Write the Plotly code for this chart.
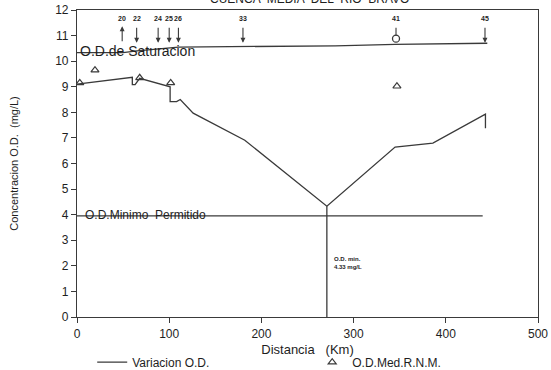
import plotly.graph_objects as go

# ---- data ----
dist_km = [0, 60, 60, 63, 68, 101, 101, 108, 112, 126, 182, 271, 345, 386, 443, 443]
od_mgL = [9.1, 9.37, 9.08, 9.08, 9.33, 9.0, 8.42, 8.42, 8.5, 7.97, 6.91, 4.33, 6.64, 6.8, 7.93, 7.38]

min_km = 271
min_od = 4.33

sat_km = [0, 50, 65, 110, 280, 345, 445]
sat_od = [10.33, 10.33, 10.4, 10.55, 10.6, 10.66, 10.7]

minperm_km = [0, 440]
minperm_od = [3.95, 3.95]

rnm_km = [3, 19.5, 68, 101.6, 347]
rnm_od = [9.15, 9.65, 9.35, 9.15, 9.02]

station_labels = ["20", "22", "24", "25", "26", "33", "41", "45"]
station_km = [49, 64.7, 88, 100, 110, 180, 346, 442.5]
station_kind = ["up", "down", "down", "down", "down", "down", "circle", "down"]

x_ticks = [0, 100, 200, 300, 400, 500]
y_ticks = list(range(0, 13))

LINE = "#3a3a3a"
TXT = "#1e1e1e"
FONT = "Liberation Sans"

fig = go.Figure()

fig.add_trace(go.Scatter(x=dist_km, y=od_mgL, mode="lines", name="Variacion O.D.",
                         line=dict(color=LINE, width=1.3)))
fig.add_trace(go.Scatter(x=[min_km, min_km], y=[0, min_od], mode="lines", showlegend=False,
                         line=dict(color=LINE, width=1.3), hoverinfo="skip"))
fig.add_trace(go.Scatter(x=sat_km, y=sat_od, mode="lines", showlegend=False,
                         line=dict(color=LINE, width=1.3)))
fig.add_trace(go.Scatter(x=minperm_km, y=minperm_od, mode="lines", showlegend=False,
                         line=dict(color=LINE, width=1.3)))
fig.add_trace(go.Scatter(x=rnm_km, y=rnm_od, mode="markers", name="O.D.Med.R.N.M.",
                         marker=dict(symbol="triangle-up-open", size=7, color=LINE,
                                     line=dict(width=1.2, color=LINE))))

annotations = []
label_y = 11.68
for lab, xk, kind in zip(station_labels, station_km, station_kind):
    annotations.append(dict(x=xk, y=label_y, xref="x", yref="y", text="<b>%s</b>" % lab,
                            showarrow=False, font=dict(size=7, color=TXT, family=FONT)))
    if kind == "down":
        annotations.append(dict(x=xk, y=10.72, ax=xk, ay=11.36, xref="x", yref="y",
                                axref="x", ayref="y", text="", showarrow=True,
                                arrowhead=2, arrowsize=0.9, arrowwidth=1.1, arrowcolor=LINE))
    elif kind == "up":
        annotations.append(dict(x=xk, y=11.36, ax=xk, ay=10.72, xref="x", yref="y",
                                axref="x", ayref="y", text="", showarrow=True,
                                arrowhead=2, arrowsize=0.9, arrowwidth=1.1, arrowcolor=LINE))
    else:
        annotations.append(dict(x=xk, y=10.98, ax=xk, ay=11.36, xref="x", yref="y",
                                axref="x", ayref="y", text="", showarrow=True,
                                arrowhead=0, arrowwidth=1.1, arrowcolor=LINE))

circle_x = [station_km[station_kind.index("circle")]]
fig.add_trace(go.Scatter(x=circle_x, y=[10.88], mode="markers", showlegend=False,
                         marker=dict(symbol="circle-open", size=7, color=LINE,
                                     line=dict(width=1.3, color=LINE))))

annotations += [
    dict(x=1, y=10.38, xref="x", yref="y", text="O.D.de Saturacion", showarrow=False,
         xanchor="left", yanchor="middle", font=dict(size=14, color=TXT, family=FONT)),
    dict(x=6, y=3.98, xref="x", yref="y", text="O.D.Minimo  Permitido", showarrow=False,
         xanchor="left", yanchor="middle", font=dict(size=12, color=TXT, family=FONT)),
    dict(x=min_km + 6, y=2.1, xref="x", yref="y",
         text="<b>O.D. min.<br>%.2f mg/L</b>" % min_od, showarrow=False,
         xanchor="left", yanchor="middle", align="left",
         font=dict(size=6, color=TXT, family=FONT)),
    dict(x=0.505, y=1.035, xref="paper", yref="paper", text="CUENCA  MEDIA  DEL  RIO  BRAVO",
         showarrow=False, xanchor="center", yanchor="middle",
         font=dict(size=12, color=TXT, family=FONT)),
]

fig.update_layout(
    width=551, height=370,
    margin=dict(l=77, r=13, t=10, b=53, autoexpand=False),
    paper_bgcolor="white", plot_bgcolor="white",
    font=dict(family=FONT, size=12, color=TXT),
    annotations=annotations,
    legend=dict(orientation="h", x=0.033, y=-0.10, xanchor="left", yanchor="top",
                entrywidth=175, entrywidthmode="pixels", tracegroupgap=0,
                font=dict(size=12, color=TXT, family=FONT), bgcolor="rgba(0,0,0,0)"),
    xaxis=dict(range=[0, 500], tickvals=x_ticks, showgrid=False, zeroline=False,
               showline=True, linecolor=LINE, linewidth=1.2, mirror=True, automargin=False,
               ticks="outside", ticklen=5, tickcolor=LINE,
               title=dict(text="Distancia   (Km)", standoff=5, font=dict(size=13))),
    yaxis=dict(range=[0, 12], tickvals=y_ticks, showgrid=False, zeroline=False,
               showline=True, linecolor=LINE, linewidth=1.2, mirror=True, automargin=False,
               ticks="outside", ticklen=5, tickcolor=LINE,
               title=dict(text="Concentracion O.D.  (mg/L)", standoff=34, font=dict(size=11))),
)

fig.write_html("out.html", config={"displayModeBar": False},
               post_script="document.body.style.margin='0';document.body.style.overflow='hidden';")
